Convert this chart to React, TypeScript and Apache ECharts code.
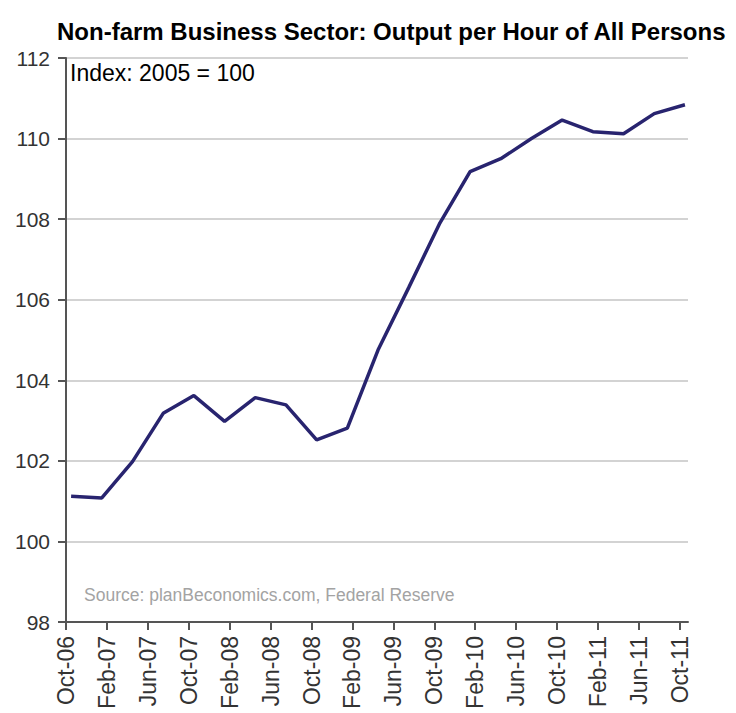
import React, { useEffect, useRef } from "react";
import * as echarts from "echarts";

// Tick labels on the x axis (every 4 months, starting Oct-06)
const tickLabels = [
  "Oct-06", "Feb-07", "Jun-07", "Oct-07", "Feb-08", "Jun-08", "Oct-08", "Feb-09",
  "Jun-09", "Oct-09", "Feb-10", "Jun-10", "Oct-10", "Feb-11", "Jun-11", "Oct-11",
];

// Quarterly observations, 2006Q4 .. 2011Q4
const quarters = [
  "2006Q4", "2007Q1", "2007Q2", "2007Q3", "2007Q4",
  "2008Q1", "2008Q2", "2008Q3", "2008Q4",
  "2009Q1", "2009Q2", "2009Q3", "2009Q4",
  "2010Q1", "2010Q2", "2010Q3", "2010Q4",
  "2011Q1", "2011Q2", "2011Q3", "2011Q4",
];
const productivity = [
  101.12, 101.08, 101.98, 103.18, 103.62,
  102.98, 103.57, 103.39, 102.52,
  102.81, 104.75, 106.3, 107.88,
  109.18, 109.5, 110.0, 110.46,
  110.17, 110.12, 110.62, 110.84,
];

const yTicks = { min: 98, max: 112, interval: 2 };
const FONT = "'Liberation Sans', Arial, sans-serif";

// month offset from Oct-06 (quarter start month, plotted mid-month)
const monthOffset = (q: string) => {
  const year = parseInt(q.slice(0, 4), 10);
  const qi = parseInt(q.slice(5), 10);
  const month = (qi - 1) * 3 + 1; // 1-based
  return (year - 2006) * 12 + (month - 10) + 0.5;
};

export default function App() {
  const ref = useRef<HTMLDivElement>(null);
  useEffect(() => {
    if (!ref.current) return;
    const chart = echarts.init(ref.current, undefined, { renderer: "svg" });
    const tickValues = tickLabels.map((_, i) => i * 4);
    chart.setOption({
      animation: false,
      backgroundColor: "#ffffff",
      title: {
        text: "Non-farm Business Sector: Output per Hour of All Persons",
        left: 52,
        top: 14,
        textStyle: { fontFamily: FONT, fontSize: 24, fontWeight: "bold", color: "#000" },
      },
      grid: { left: 66, right: 48, top: 58, bottom: 91, containLabel: false },
      xAxis: {
        type: "value",
        min: 0,
        max: 60.8,
        splitLine: { show: false },
        axisLine: { show: true, onZero: false, lineStyle: { color: "#555", width: 2 } },
        axisTick: {
          show: true,
          customValues: tickValues,
          length: 8,
          lineStyle: { color: "#555", width: 2 },
        },
        axisLabel: {
          customValues: tickValues,
          rotate: 90,
          margin: 14,
          fontFamily: FONT,
          fontSize: 23,
          color: "#333",
          formatter: (v: number) => tickLabels[Math.round(v / 4)] ?? "",
        },
      },
      yAxis: {
        type: "value",
        min: yTicks.min,
        max: yTicks.max,
        interval: yTicks.interval,
        axisLine: { show: true, lineStyle: { color: "#555", width: 2 } },
        axisTick: { show: true, length: 8, lineStyle: { color: "#555", width: 2 } },
        splitLine: { show: true, lineStyle: { color: "#c4c4c4", width: 1.5 } },
        axisLabel: { margin: 16, fontFamily: FONT, fontSize: 21, color: "#333" },
      },
      graphic: [
        {
          type: "text",
          left: 70,
          top: 61,
          style: { text: "Index: 2005 = 100", font: `23px ${FONT}`, fill: "#000" },
        },
        {
          type: "text",
          left: 84,
          top: 586,
          style: {
            text: "Source: planBeconomics.com, Federal Reserve",
            font: `17.5px ${FONT}`,
            fill: "#a3a3a3",
          },
        },
      ],
      series: [
        {
          type: "line",
          data: quarters.map((q, i) => [monthOffset(q), productivity[i]]),
          showSymbol: false,
          lineStyle: { color: "#28246f", width: 3.5 },
          itemStyle: { color: "#28246f" },
        },
      ],
    });
    return () => chart.dispose();
  }, []);
  return (
    <div
      ref={ref}
      style={{ position: "fixed", left: 0, top: 0, width: 736, height: 713 }}
    />
  );
}
